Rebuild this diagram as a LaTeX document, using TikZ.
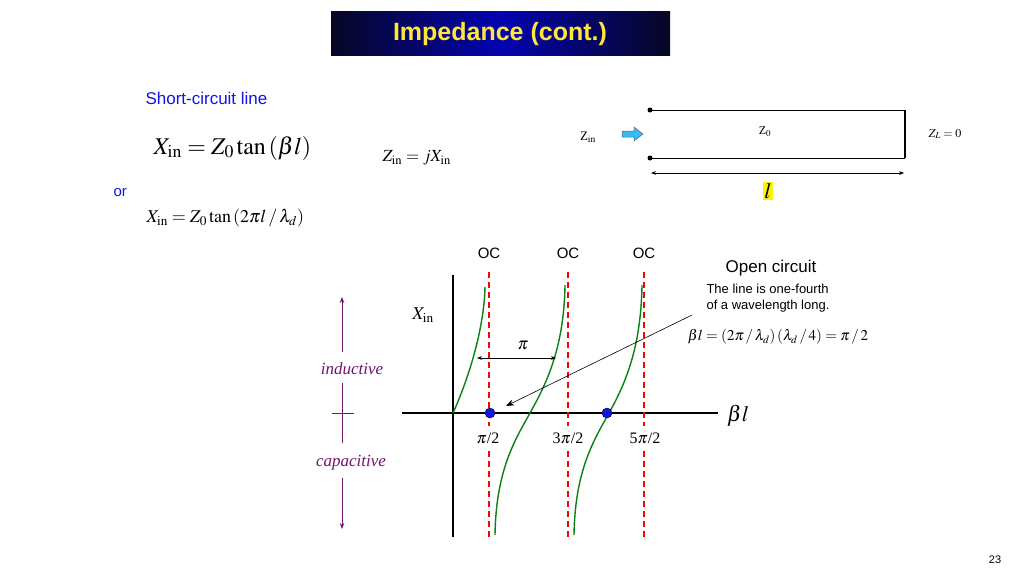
\documentclass[tikz,border=0pt]{standalone}
\usepackage{mathptmx}
\usepackage{fontspec}
\setmainfont{Liberation Serif}
\setsansfont{Liberation Sans}
\usetikzlibrary{arrows.meta}
\definecolor{navy}{RGB}{10,10,60}
\definecolor{ttl}{RGB}{255,230,60}
\definecolor{blu}{RGB}{20,20,230}
\definecolor{grn}{RGB}{10,130,20}
\definecolor{purp}{RGB}{110,20,110}
\tikzset{
 oc/.style={red,line width=1.2pt,dash pattern=on 6pt off 4pt},
 tanc/.style={grn,line width=1.4pt},
 dotb/.style={circle,fill=blu,draw=black,inner sep=0pt,minimum size=10pt},
 pa/.style={purp,line width=0.9pt},
 tick/.style={inner sep=1pt,font=\fontsize{16}{16}\selectfont}
}
\begin{document}
\begin{tikzpicture}[x=1pt,y=-1pt]
\useasboundingbox (0,0) rectangle (1024,576);
\fill[white] (0,0) rectangle (1024,576);
% title
\shade[left color=navy!60!black,right color=navy!60!black,middle color=navy!40!blue] (331,11) rectangle (670,55);
\node[font=\sffamily\bfseries\fontsize{25}{25}\selectfont,text=ttl] (title) at (500,34) {Impedance (cont.)};
% left texts
\node[font=\sffamily\fontsize{17}{17}\selectfont,text=blu,anchor=west] (sc) at (142,98) {Short-circuit line};
\node[anchor=west,font=\fontsize{24}{24}\selectfont] (f1) at (150,148) {$X_{\mathrm{in}}=Z_0\tan\left(\beta l\right)$};
\node[anchor=west,font=\fontsize{17}{17}\selectfont] (f2) at (379,158) {$Z_{\mathrm{in}}=jX_{\mathrm{in}}$};
\node[anchor=west,font=\sffamily\fontsize{15}{15}\selectfont,text=blu] (or) at (110,193) {or};
\node[anchor=west,font=\fontsize{18}{18}\selectfont] (f3) at (143,218) {$X_{\mathrm{in}}=Z_0\tan\left(2\pi l\,/\,\lambda_d\right)$};
% circuit
\coordinate (t1) at (650,110); \coordinate (t2) at (905,110);
\coordinate (b1) at (650,158); \coordinate (b2) at (905,158);
\draw[line width=1pt] (t1)--(t2); \draw[line width=1pt] (b1)--(b2);
\draw[line width=2pt] (t2)--(b2);
\fill (t1) circle (2.5); \fill (b1) circle (2.5);
\node[font=\fontsize{13}{13}\selectfont] (zin) at (588,137) {Z$_{\mathrm{in}}$};
\draw[draw=black!60,fill=cyan!80,line width=0.5pt] (622,131)--(634,131)--(634,127)--(643,134)--(634,141)--(634,137)--(622,137)--cycle;
\node[font=\fontsize{12}{12}\selectfont] (z0) at (765,132) {Z$_0$};
\node[font=\fontsize{12}{12}\selectfont] (zl) at (945,134) {$Z_L=0$};
\coordinate (d1) at (651,173); \coordinate (d2) at (904,173);
\draw[{Stealth[length=5pt]}-{Stealth[length=5pt]},line width=0.5pt] (d1)--(d2);
\node[fill=yellow,inner sep=1pt,font=\fontsize{22}{22}\selectfont] (ll) at (768,191) {$l$};
% graph
\draw[line width=1.8pt] (453,275)--(453,537);
\draw[line width=1.8pt] (402,413)--(718,413);
\foreach \x in {489,568,644}{
 \draw[oc] (\x,272)--(\x,426);
 \draw[oc] (\x,451)--(\x,537);
 \node[font=\sffamily\fontsize{15}{15}\selectfont] at (\x,253) {OC};
}
\draw[tanc] (453,413) .. controls (468,380) and (484,330) .. (485,287);
\draw[tanc] (495,535) .. controls (496,470) and (515,440) .. (530,413) .. controls (545,386) and (564,350) .. (565,285);
\draw[tanc] (574,535) .. controls (575,470) and (594,440) .. (609,413) .. controls (624,386) and (641,350) .. (642,285);
\node[dotb] (p1) at (490,413) {};
\node[dotb] (p2) at (607,413) {};
\coordinate (pa1) at (477,358); \coordinate (pa2) at (556,358);
\draw[{Stealth[length=5pt]}-{Stealth[length=5pt]},line width=0.8pt] (pa1)--(pa2);
\node[font=\fontsize{17}{17}\selectfont] (pi) at (523,345) {$\pi$};
\node[font=\fontsize{18}{18}\selectfont] (xin) at (423,315) {$X_{\mathrm{in}}$};
\node[font=\fontsize{22}{22}\selectfont] (bl) at (738,416) {$\beta l$};
\node[tick] at (488,438) {$\pi$/2};
\node[tick] at (568,438) {3$\pi$/2};
\node[tick] at (645,438) {5$\pi$/2};
% inductive/capacitive
\draw[pa,-{Stealth[length=6pt]}] (342,352)--(342,297);
\draw[pa] (342,383)--(342,443);
\draw[pa] (332,413)--(354,413);
\draw[pa,-{Stealth[length=6pt]}] (342,478)--(342,529);
\node[text=purp,font=\itshape\fontsize{17}{17}\selectfont] (ind) at (352,369) {inductive};
\node[text=purp,font=\itshape\fontsize{17}{17}\selectfont] (cap) at (351,463) {capacitive};
% annotation
\node[font=\sffamily\fontsize{17}{17}\selectfont] (open) at (771,268) {Open circuit};
\node[font=\sffamily\fontsize{13}{16}\selectfont,align=left,anchor=west] (desc) at (703,298) {The line is one-fourth\\of a wavelength long.};
\node[font=\fontsize{15}{15}\selectfont] (eq) at (778,337) {$\beta l=\left(2\pi\,/\,\lambda_d\right)\left(\lambda_d\,/\,4\right)=\pi\,/\,2$};
\coordinate (ps) at (692,315);
\draw[-{Stealth[length=8pt]},line width=0.6pt] (ps)--(506,406);
\node[font=\sffamily\fontsize{11}{11}\selectfont] (pg) at (995,560) {23};
\end{tikzpicture}
\end{document}
